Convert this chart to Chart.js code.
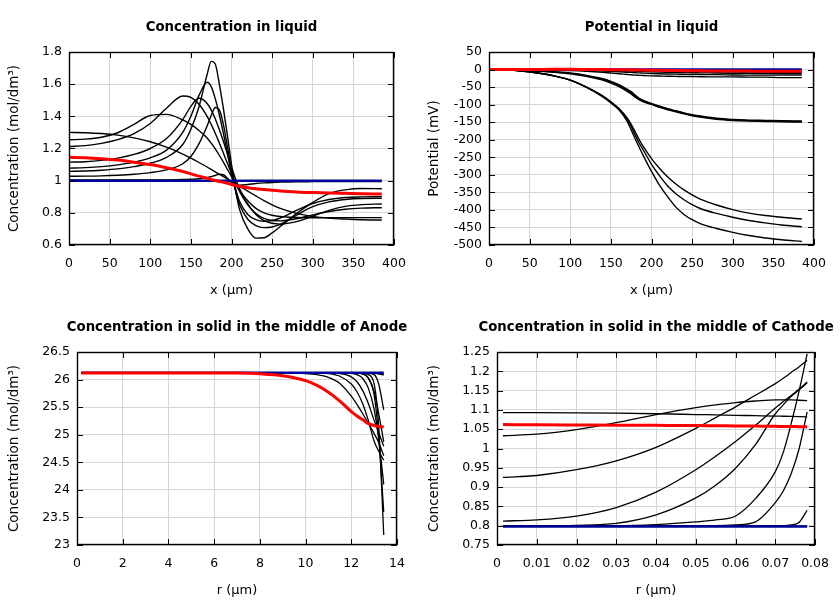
<!DOCTYPE html>
<html>
<head>
<meta charset="utf-8">
<script src="https://cdn.jsdelivr.net/npm/chart.js@4.4.1/dist/chart.umd.min.js"></script>
<style>
  html, body { margin: 0; padding: 0; background: #ffffff; }
  #wrap { position: relative; width: 840px; height: 600px; background: #ffffff; }
  canvas { position: absolute; }
</style>
</head>
<body>
<div id="wrap">
  <canvas id="c1" width="420" height="300" style="left:0px;top:0px"></canvas>
  <canvas id="c2" width="420" height="300" style="left:420px;top:0px"></canvas>
  <canvas id="c3" width="420" height="300" style="left:0px;top:300px"></canvas>
  <canvas id="c4" width="420" height="300" style="left:420px;top:300px"></canvas>
</div>
<script>
// ---------- Concentration in liquid ----------
const liqX = [0, 20, 40, 60, 80, 100, 120, 140, 150, 160, 170, 175, 180, 185, 190, 195, 200, 205, 210, 220, 230, 240, 250, 260, 280, 300, 320, 340, 360, 385];
const liqRed = [1.145, 1.143, 1.137, 1.128, 1.115, 1.100, 1.080, 1.057, 1.042, 1.028, 1.015, 1.008, 1.001, 0.995, 0.990, 0.984, 0.977, 0.970, 0.964, 0.956, 0.950, 0.945, 0.940, 0.936, 0.930, 0.926, 0.923, 0.921, 0.919, 0.917];
const liqBlueX = [0, 385];
const liqBlue = [1.0, 1.0];
const liqF = [1.300, 1.298, 1.293, 1.283, 1.266, 1.242, 1.208, 1.165, 1.140, 1.113, 1.085, 1.070, 1.055, 1.040, 1.025, 1.010, 0.995, 0.980, 0.965, 0.935, 0.905, 0.876, 0.850, 0.828, 0.797, 0.778, 0.767, 0.761, 0.757, 0.755];
const liqC2 = [1.254, 1.258, 1.270, 1.298, 1.350, 1.405, 1.412, 1.378, 1.350, 1.312, 1.265, 1.233, 1.198, 1.158, 1.115, 1.070, 1.025, 0.980, 0.940, 0.875, 0.828, 0.800, 0.785, 0.777, 0.771, 0.769, 0.769, 0.769, 0.770, 0.770];
const liqC3 = [1.212, 1.218, 1.232, 1.255, 1.292, 1.355, 1.450, 1.526, 1.518, 1.475, 1.400, 1.350, 1.295, 1.235, 1.172, 1.108, 1.045, 0.985, 0.932, 0.850, 0.795, 0.765, 0.752, 0.750, 0.763, 0.787, 0.808, 0.822, 0.829, 0.832];
const liqC4 = [1.115, 1.118, 1.126, 1.140, 1.163, 1.200, 1.262, 1.380, 1.462, 1.512, 1.480, 1.440, 1.385, 1.318, 1.245, 1.165, 1.085, 1.010, 0.950, 0.855, 0.790, 0.752, 0.735, 0.730, 0.745, 0.780, 0.815, 0.840, 0.851, 0.855];
const liqC5 = [1.078, 1.081, 1.087, 1.098, 1.115, 1.142, 1.190, 1.300, 1.400, 1.530, 1.612, 1.585, 1.510, 1.410, 1.295, 1.170, 1.040, 0.935, 0.850, 0.760, 0.720, 0.708, 0.712, 0.728, 0.785, 0.838, 0.868, 0.883, 0.889, 0.890];
const liqA = [1.058, 1.060, 1.065, 1.073, 1.087, 1.108, 1.145, 1.225, 1.320, 1.460, 1.660, 1.742, 1.725, 1.600, 1.450, 1.280, 1.100, 0.940, 0.820, 0.700, 0.643, 0.645, 0.675, 0.715, 0.795, 0.865, 0.920, 0.943, 0.951, 0.950];
const liqC7 = [1.027, 1.028, 1.030, 1.034, 1.040, 1.050, 1.067, 1.105, 1.150, 1.230, 1.340, 1.405, 1.455, 1.440, 1.350, 1.210, 1.065, 0.950, 0.870, 0.790, 0.758, 0.748, 0.752, 0.768, 0.815, 0.858, 0.883, 0.895, 0.899, 0.900];
const liqH = [1.004, 1.004, 1.004, 1.004, 1.004, 1.005, 1.005, 1.007, 1.009, 1.012, 1.019, 1.025, 1.032, 1.040, 1.037, 1.015, 0.988, 0.975, 0.972, 0.976, 0.982, 0.986, 0.989, 0.991, 0.993, 0.994, 0.995, 0.995, 0.995, 0.995];

// ---------- Potential in liquid ----------
const potX = [0, 20, 40, 60, 80, 100, 120, 140, 150, 160, 170, 175, 180, 185, 190, 200, 210, 220, 230, 240, 250, 260, 280, 300, 320, 340, 360, 385];
const potRed = [0, 0, 0, 0.3, 0.5, 0.5, 0.3, 0, -0.3, -0.5, -0.8, -1, -1.2, -1.4, -1.6, -2, -2.3, -2.6, -2.9, -3.2, -3.5, -3.7, -4, -4.3, -4.5, -4.7, -4.9, -5];
const potBlueX = [0, 385];
const potBlue = [0, 0];
const potS1 = [0, 0, -0.5, -1, -2, -3, -5, -8, -10, -12, -14, -15, -16, -16.5, -17, -18, -18.5, -19, -19.5, -20, -20, -20.5, -21, -21, -21.5, -21.5, -23, -23];
const potS2 = [0, 0, 0, -0.3, -0.8, -1.5, -2.5, -4, -5, -6.2, -7.5, -8.2, -9, -9.6, -10.2, -11.2, -12, -12.6, -13.1, -13.5, -13.9, -14.2, -14.6, -15.5, -16, -16, -16, -16];
const potS3 = [0, 0, 0, 0, -0.2, -0.5, -1, -2, -2.6, -3.3, -4, -4.4, -4.8, -5.2, -5.6, -6.5, -7.2, -7.8, -8.3, -8.7, -9.1, -9.4, -10, -10.5, -11, -11.4, -11.8, -12];
const potS4 = [0, 0, 0.3, 0.8, 1.2, 1.5, 1.2, 0.5, 0, -0.5, -1, -1.3, -1.6, -2, -2.3, -3, -3.6, -4.1, -4.6, -5, -5.4, -5.7, -6.2, -6.6, -7, -7.4, -7.7, -8];
const potM1 = [0, -0.5, -2, -3.8, -6.5, -10, -16.5, -26, -33.5, -43, -56, -63, -73, -82, -88, -96.5, -104.5, -111.5, -117.5, -123.5, -128.5, -132.5, -138.5, -142, -144, -145, -146, -146.5];
const potM2 = [0, -0.5, -2, -4, -7, -11, -18, -28, -36, -46, -59, -66, -76, -84, -90, -98, -106, -113, -119, -125, -130, -134, -140, -143.5, -145.5, -146.5, -147.5, -148];
const potM3 = [0, -0.5, -2.2, -4.3, -7.5, -12, -19.5, -30, -38.5, -49, -62, -69.5, -79, -86.5, -92, -99.5, -107.5, -114.5, -120.5, -126.5, -131.5, -135.5, -141.5, -145, -147, -148, -149, -149.5];
const potL1 = [0, -1, -4, -10, -18, -30, -50, -75, -92, -111, -138, -156, -178, -200, -220, -254, -282, -306, -326, -343, -357, -369, -386, -399, -409, -416, -421, -426];
const potL2 = [0, -1, -4, -10, -18, -30, -50, -76, -93, -113, -142, -162, -187, -210, -230, -270, -303, -332, -354, -371, -385, -396, -410, -421, -430, -437, -443, -448];
const potL3 = [0, -1, -4, -10, -18, -30, -51, -78, -95, -115, -148, -172, -198, -222, -246, -290, -330, -363, -392, -413, -428, -439, -453, -464, -473, -480, -485, -490];

// ---------- Concentration in solid, Anode ----------
const anX = [0.2, 2, 4, 6, 7, 8, 9, 10, 10.5, 11, 11.5, 12, 12.25, 12.5, 12.75, 13, 13.2, 13.42];
const anRed = [26.12, 26.12, 26.12, 26.12, 26.118, 26.105, 26.07, 25.98, 25.895, 25.77, 25.61, 25.42, 25.34, 25.27, 25.2, 25.165, 25.15, 25.14];
const anBlueX = [0.2, 13.42];
const anBlue = [26.125, 26.125];
const anB1 = [26.12, 26.12, 26.12, 26.12, 26.12, 26.12, 26.12, 26.11, 26.09, 26.04, 25.93, 25.70, 25.55, 25.38, 25.20, 25.02, 24.86, 24.62];
const anB2 = [26.12, 26.12, 26.12, 26.12, 26.12, 26.12, 26.12, 26.12, 26.12, 26.11, 26.06, 25.92, 25.78, 25.56, 25.25, 24.88, 24.70, 24.54];
const anB3 = [26.12, 26.12, 26.12, 26.12, 26.12, 26.12, 26.12, 26.12, 26.12, 26.12, 26.11, 26.05, 25.96, 25.80, 25.56, 25.26, 25.04, 24.79];
const anB4 = [26.12, 26.12, 26.12, 26.12, 26.12, 26.12, 26.12, 26.12, 26.12, 26.12, 26.12, 26.115, 26.09, 26.02, 25.84, 25.46, 24.92, 24.10];
const anB5 = [26.12, 26.12, 26.12, 26.12, 26.12, 26.12, 26.12, 26.12, 26.12, 26.12, 26.12, 26.12, 26.115, 26.10, 26.02, 25.72, 24.95, 23.60];
const anB6 = [26.12, 26.12, 26.12, 26.12, 26.12, 26.12, 26.12, 26.12, 26.12, 26.12, 26.12, 26.12, 26.12, 26.115, 26.09, 25.92, 25.15, 23.18];
const anB7 = [26.12, 26.12, 26.12, 26.12, 26.12, 26.12, 26.12, 26.12, 26.12, 26.12, 26.12, 26.12, 26.12, 26.12, 26.115, 26.09, 25.92, 25.45];
const anB8 = [26.12, 26.12, 26.12, 26.12, 26.12, 26.12, 26.12, 26.12, 26.12, 26.12, 26.12, 26.12, 26.12, 26.11, 26.03, 25.78, 25.38, 24.87];
const anB9 = [26.12, 26.12, 26.12, 26.12, 26.12, 26.12, 26.12, 26.12, 26.12, 26.12, 26.12, 26.12, 26.12, 26.12, 26.12, 26.12, 26.11, 26.10];
const anB10 = [26.12, 26.12, 26.12, 26.12, 26.12, 26.12, 26.12, 26.12, 26.12, 26.12, 26.12, 26.12, 26.12, 26.12, 26.12, 26.115, 26.105, 26.085];

// ---------- Concentration in solid, Cathode ----------
const caX = [0.0015, 0.01, 0.02, 0.03, 0.04, 0.05, 0.055, 0.06, 0.065, 0.07, 0.072, 0.074, 0.076, 0.078];
const caRed = [1.062, 1.0615, 1.061, 1.0605, 1.06, 1.0595, 1.059, 1.0585, 1.058, 1.0575, 1.057, 1.057, 1.0565, 1.0565];
const caBlueX = [0.0015, 0.078];
const caBlue = [0.798, 0.798];
const caK1 = [1.093, 1.093, 1.0925, 1.0915, 1.090, 1.088, 1.087, 1.086, 1.085, 1.084, 1.0835, 1.083, 1.0825, 1.082];
const caK2 = [1.033, 1.037, 1.049, 1.067, 1.088, 1.106, 1.113, 1.119, 1.123, 1.126, 1.126, 1.126, 1.125, 1.124];
const caK3 = [0.925, 0.930, 0.945, 0.968, 1.003, 1.052, 1.080, 1.108, 1.138, 1.168, 1.182, 1.197, 1.212, 1.228];
const caK4 = [0.812, 0.815, 0.825, 0.847, 0.887, 0.945, 0.980, 1.018, 1.060, 1.105, 1.122, 1.137, 1.154, 1.172];
const caK5 = [0.800, 0.800, 0.801, 0.806, 0.828, 0.872, 0.905, 0.949, 1.010, 1.090, 1.113, 1.135, 1.152, 1.170];
const caK6 = [0.800, 0.800, 0.800, 0.800, 0.803, 0.810, 0.815, 0.825, 0.870, 0.940, 0.990, 1.065, 1.150, 1.245];
const caK7 = [0.800, 0.800, 0.800, 0.800, 0.800, 0.800, 0.800, 0.802, 0.810, 0.860, 0.890, 0.935, 1.000, 1.095];
const caK8 = [0.800, 0.800, 0.800, 0.800, 0.800, 0.800, 0.800, 0.800, 0.800, 0.800, 0.800, 0.802, 0.809, 0.840];
const caK9 = [0.799, 0.799, 0.799, 0.799, 0.799, 0.799, 0.799, 0.799, 0.799, 0.799, 0.799, 0.799, 0.799, 0.799];

// ---------- helpers ----------
const FONT = "'DejaVu Sans', sans-serif";
const RED = '#ff0000';
const BLUE = '#00009c';
const BLACK = '#000000';
const GRID = '#d6d6d6';

function fmt(v) { return String(Number(Number(v).toFixed(6))); }

function line(xs, ys, color, width) {
  return {
    data: xs.map((x, i) => ({ x: x, y: ys[i] })),
    borderColor: color,
    borderWidth: width,
    pointRadius: 0,
    fill: false,
    cubicInterpolationMode: 'monotone'
  };
}

const framePlugin = {
  id: 'gnuframe',
  afterDatasetsDraw(chart) {
    const { ctx, chartArea: a, scales } = chart;
    const xs = scales.x, ys = scales.y;
    ctx.save();
    ctx.strokeStyle = '#000';
    ctx.lineWidth = 1;
    ctx.beginPath();
    xs.ticks.forEach(t => {
      const px = Math.round(xs.getPixelForValue(t.value)) + 0.5;
      ctx.moveTo(px, a.top); ctx.lineTo(px, a.top + 6);
      ctx.moveTo(px, a.bottom); ctx.lineTo(px, a.bottom - 6);
    });
    ys.ticks.forEach(t => {
      const py = Math.round(ys.getPixelForValue(t.value)) + 0.5;
      ctx.moveTo(a.left, py); ctx.lineTo(a.left + 6, py);
      ctx.moveTo(a.right, py); ctx.lineTo(a.right - 6, py);
    });
    ctx.stroke();
    ctx.lineWidth = 1.4;
    ctx.strokeRect(Math.round(a.left) + 0.5, Math.round(a.top) + 0.5,
                   Math.round(a.right - a.left) - 1, Math.round(a.bottom - a.top) - 1);
    ctx.restore();
  }
};

// plot title centred over the plot frame, drawn as text without width squeezing
const titlePlugin = {
  id: 'plotTitle',
  afterDraw(chart, args, opts) {
    const { ctx, chartArea: a } = chart;
    ctx.save();
    ctx.fillStyle = '#000';
    ctx.font = 'bold 13.3px ' + FONT;
    ctx.textAlign = 'center';
    ctx.textBaseline = 'middle';
    ctx.fillText(opts.text, (a.left + a.right) / 2, 28);
    ctx.restore();
  }
};

function makeChart(id, opt) {
  const ctx = document.getElementById(id);
  return new Chart(ctx, {
    type: 'line',
    data: { datasets: opt.datasets },
    plugins: [framePlugin, titlePlugin],
    options: {
      responsive: false,
      animation: false,
      devicePixelRatio: 1,
      events: [],
      layout: { padding: { top: 52, right: opt.padRight, bottom: 0, left: 0 } },
      plugins: {
        legend: { display: false },
        tooltip: { enabled: false },
        title: { display: false },
        plotTitle: { text: opt.title }
      },
      scales: {
        x: {
          type: 'linear',
          min: opt.xMin, max: opt.xMax,
          afterFit(s) { s.height = 55; },
          grid: { color: GRID, lineWidth: 1, drawTicks: false },
          border: { display: false },
          ticks: {
            stepSize: opt.xStep, autoSkip: false, maxRotation: 0, padding: 11,
            color: '#000', font: { family: FONT, size: 12.5 },
            callback: fmt
          },
          title: {
            display: true, text: opt.xTitle, color: '#000',
            font: { family: FONT, size: 13 }, padding: { top: 0, bottom: 2 }
          }
        },
        y: {
          type: 'linear',
          min: opt.yMin, max: opt.yMax,
          afterFit(s) { s.width = opt.axisW; },
          grid: { color: GRID, lineWidth: 1, drawTicks: false },
          border: { display: false },
          ticks: {
            stepSize: opt.yStep, autoSkip: false, padding: 7,
            color: '#000', font: { family: FONT, size: 12.5 },
            callback: fmt
          },
          title: {
            display: true, text: opt.yTitle, color: '#000',
            font: { family: FONT, size: 13.5 }, padding: { top: 6, bottom: 0 }
          }
        }
      }
    }
  });
}

const liqBlack = [liqF, liqC2, liqC3, liqC4, liqC5, liqA, liqC7, liqH];
makeChart('c1', {
  title: 'Concentration in liquid',
  xTitle: 'x (\u00b5m)', yTitle: 'Concentration (mol/dm\u00b3)',
  xMin: 0, xMax: 400, xStep: 50, yMin: 0.6, yMax: 1.8, yStep: 0.2,
  axisW: 69, padRight: 26,
  datasets: [line(liqX, liqRed, RED, 3), line(liqBlueX, liqBlue, BLUE, 2.5)]
    .concat(liqBlack.map(s => line(liqX, s, BLACK, 1.4)))
});

const potBlack = [potS1, potS2, potS3, potS4, potM1, potM2, potM3, potL1, potL2, potL3];
makeChart('c2', {
  title: 'Potential in liquid',
  xTitle: 'x (\u00b5m)', yTitle: 'Potential (mV)',
  xMin: 0, xMax: 400, xStep: 50, yMin: -500, yMax: 50, yStep: 50,
  axisW: 69, padRight: 26,
  datasets: [line(potX, potRed, RED, 3), line(potBlueX, potBlue, BLUE, 2.5)]
    .concat(potBlack.map(s => line(potX, s, BLACK, 1.4)))
});

const anBlack = [anB1, anB2, anB3, anB4, anB5, anB6, anB7, anB8, anB9, anB10];
makeChart('c3', {
  title: 'Concentration in solid in the middle of Anode',
  xTitle: 'r (\u00b5m)', yTitle: 'Concentration (mol/dm\u00b3)',
  xMin: 0, xMax: 14, xStep: 2, yMin: 23, yMax: 26.5, yStep: 0.5,
  axisW: 77, padRight: 23,
  datasets: [line(anX, anRed, RED, 3), line(anBlueX, anBlue, BLUE, 2.5)]
    .concat(anBlack.map(s => line(anX, s, BLACK, 1.3)))
});

const caBlack = [caK1, caK2, caK3, caK4, caK5, caK6, caK7, caK8, caK9];
makeChart('c4', {
  title: 'Concentration in solid in the middle of Cathode',
  xTitle: 'r (\u00b5m)', yTitle: 'Concentration (mol/dm\u00b3)',
  xMin: 0, xMax: 0.08, xStep: 0.01, yMin: 0.75, yMax: 1.25, yStep: 0.05,
  axisW: 77, padRight: 23,
  datasets: [line(caX, caRed, RED, 3), line(caBlueX, caBlue, BLUE, 2.5)]
    .concat(caBlack.map(s => line(caX, s, BLACK, 1.3)))
});
</script>
</body>
</html>
